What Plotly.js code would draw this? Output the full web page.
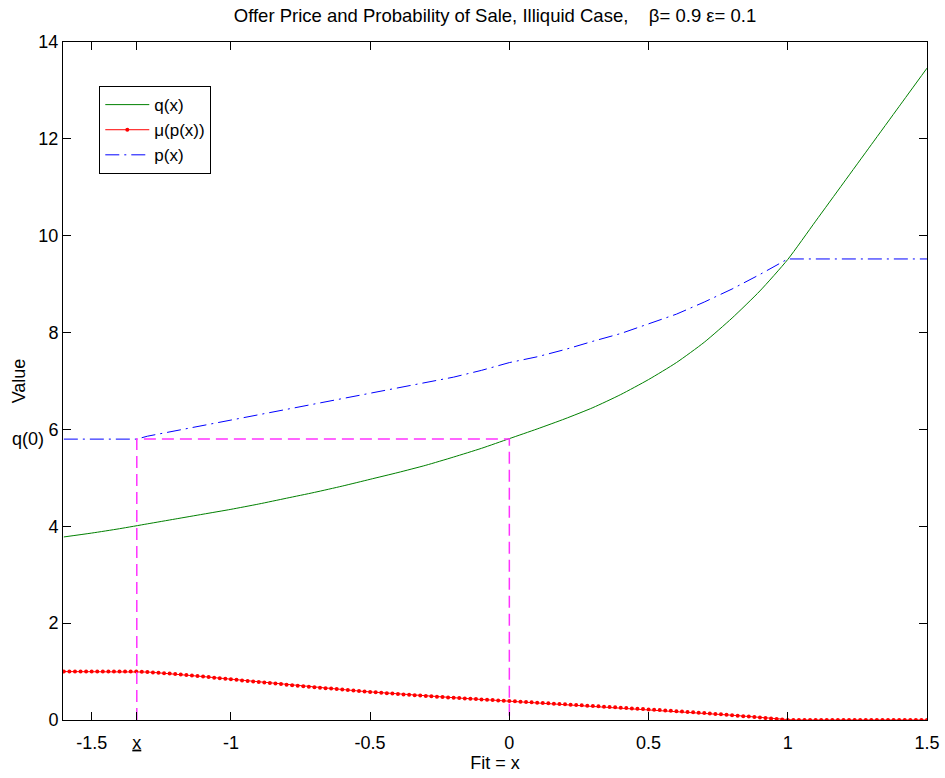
<!DOCTYPE html>
<html>
<head>
<meta charset="utf-8">
<script src="https://cdn.plot.ly/plotly-3.0.1.min.js"></script>
<style>html,body{margin:0;padding:0;background:#fff;}#chart{width:945px;height:778px;}</style>
</head>
<body>
<div id="chart"></div>
<script>
// ---- data ----
// q(x): offer price curve (green)
const qX = [-1.6,-1.5,-1.4,-1.3,-1.2,-1.1,-1.0,-0.9,-0.8,-0.7,-0.6,-0.5,-0.4,-0.3,-0.2,-0.1,0.0,0.1,0.2,0.3,0.4,0.5,0.6,0.7,0.8,0.9,1.0,1.1,1.2,1.3,1.4,1.5];
const qY = [3.78,3.86,3.95,4.05,4.15,4.25,4.35,4.46,4.58,4.70,4.83,4.97,5.11,5.26,5.43,5.61,5.81,6.01,6.22,6.45,6.72,7.03,7.38,7.80,8.30,8.86,9.51,10.30,11.09,11.88,12.67,13.46];

// p(x): reservation price (blue dash-dot)
const pX = [-1.6,-1.5,-1.4,-1.338,-1.3,-1.2,-1.1,-1.0,-0.9,-0.8,-0.7,-0.6,-0.5,-0.4,-0.3,-0.2,-0.1,0.0,0.1,0.2,0.3,0.4,0.5,0.6,0.7,0.8,0.9,1.0,1.1,1.2,1.3,1.4,1.5];
const pY = [5.80,5.80,5.80,5.80,5.86,5.97,6.08,6.19,6.30,6.41,6.52,6.63,6.74,6.85,6.97,7.08,7.22,7.38,7.50,7.65,7.82,7.98,8.18,8.38,8.63,8.90,9.20,9.52,9.52,9.52,9.52,9.52,9.52];

// mu(p(x)): probability of sale (red, dotted markers), sampled every 0.02 from -1.6 to 1.5
const muStart = -1.6, muStep = 0.02;
const muY = [
  1.000,1.000,1.000,1.000,1.000,1.000,1.000,1.000,1.000,1.000,1.000,1.000,1.000,1.000,
  0.996,0.990,0.983,0.975,0.967,0.958,0.949,0.939,0.929,0.919,0.908,0.897,0.886,0.875,0.864,0.852,0.840,
  0.829,0.818,0.807,0.796,0.785,0.774,0.763,0.752,0.741,0.730,0.720,0.709,0.699,0.688,0.678,0.668,0.658,0.648,0.638,0.628,
  0.618,0.608,0.598,0.589,0.580,0.571,0.562,0.553,0.545,0.537,0.529,0.521,0.513,0.505,0.497,0.490,0.482,0.475,0.467,0.460,
  0.453,0.446,0.439,0.432,0.425,0.418,0.411,0.405,0.398,0.392,
  0.385,0.378,0.372,0.365,0.358,0.352,0.345,0.338,0.331,0.324,0.317,0.310,0.303,0.296,0.289,0.282,0.275,0.268,0.261,0.254,
  0.247,0.240,0.233,0.226,0.219,0.212,0.205,0.198,0.190,0.183,0.175,0.167,0.159,0.151,0.143,0.134,0.126,0.117,0.108,0.099,
  0.090,0.080,0.071,0.061,0.051,0.041,0.031,0.021,0.010,0.000,
  0,0,0,0,0,0,0,0,0,0,0,0,0,0,0,0,0,0,0,0,0,0,0,0,0
];
const muX = muY.map((_, i) => +(muStart + i * muStep).toFixed(2));

// guide lines: x_ (where p(x) leaves q(0)) and q(0)
const xUnder = -1.338;
const q0 = 5.8;
const guideX = [xUnder, xUnder, 0, 0];
const guideY = [0, q0, q0, 0];

// axis ticks
const xTickVals = [-1.5, xUnder, -1, -0.5, 0, 0.5, 1, 1.5];
const xTickText = ['-1.5', '<u>x</u>', '-1', '-0.5', '0', '0.5', '1', '1.5'];
const yTickVals = [0, 2, 4, 6, 8, 10, 12, 14];

const FONT = '"Liberation Sans", Arial, Helvetica, sans-serif';

const traces = [
  {x: qX, y: qY, name: 'q(x)', mode: 'lines', line: {color: '#008000', width: 1, shape: 'spline', smoothing: 0.6}},
  {x: muX, y: muY, name: 'μ(p(x))', mode: 'lines+markers', line: {color: '#ff0000', width: 1},
   marker: {color: '#ff0000', size: 4, symbol: 'circle'}},
  {x: pX, y: pY, name: 'p(x)', mode: 'lines', line: {color: '#0000ff', width: 1, dash: '14px,5px,2px,5px'}},
  {x: guideX, y: guideY, mode: 'lines', showlegend: false, hoverinfo: 'skip',
   line: {color: '#ff33ff', width: 1.5, dash: '12px,6px'}}
];

const axisCommon = {
  showline: true, linecolor: '#000', linewidth: 1, mirror: 'ticks',
  ticks: 'inside', ticklen: 8, tickcolor: '#000', tickwidth: 1,
  showgrid: false, zeroline: false,
  tickfont: {family: FONT, size: 18, color: '#000'}
};

const layout = {
  width: 945, height: 778,
  margin: {l: 63, r: 18, t: 42, b: 58},
  paper_bgcolor: '#fff', plot_bgcolor: '#fff',
  font: {family: FONT, color: '#000'},
  title: {text: 'Offer Price and Probability of Sale, Illiquid Case,&nbsp;&nbsp;&nbsp;&nbsp;β= 0.9 ε= 0.1',
          font: {family: FONT, size: 18.5, color: '#000'}, x: 0.5, xref: 'paper', y: 1 - 16/778, yanchor: 'middle'},
  xaxis: Object.assign({}, axisCommon, {
    range: [-1.603, 1.5], tickmode: 'array', tickvals: xTickVals, ticktext: xTickText,
    ticklabelstandoff: 6,
    title: {text: 'Fit = x', font: {family: FONT, size: 18, color: '#000'}, standoff: 2}
  }),
  yaxis: Object.assign({}, axisCommon, {
    range: [0, 14], tickmode: 'array', tickvals: yTickVals,
    title: {text: 'Value', font: {family: FONT, size: 18, color: '#000'}, standoff: 8}
  }),
  legend: {
    x: 0.042, y: 0.935, xanchor: 'left', yanchor: 'top',
    bgcolor: '#fff', bordercolor: '#000', borderwidth: 1,
    font: {family: FONT, size: 17, color: '#000'},
    itemwidth: 44, tracegroupgap: 0
  },
  annotations: [
    {text: 'q(0)', xref: 'paper', yref: 'y', x: 0, y: q0, xanchor: 'right', yanchor: 'middle',
     xshift: -17, showarrow: false, font: {family: FONT, size: 18, color: '#000'}}
  ]
};

Plotly.newPlot('chart', traces, layout, {displayModeBar: false, staticPlot: true});
</script>
</body>
</html>
